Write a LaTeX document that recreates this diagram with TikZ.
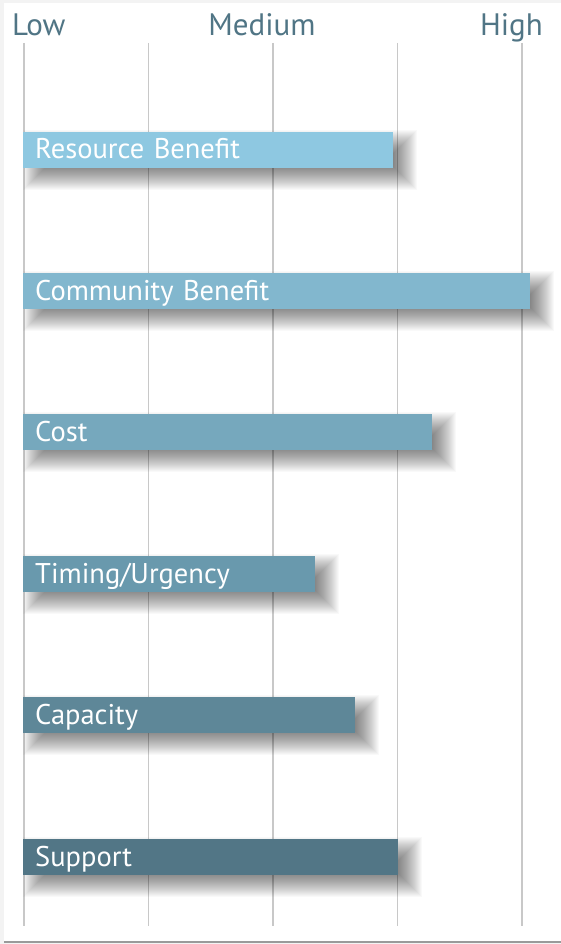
\documentclass[tikz,border=0pt]{standalone}
\usepackage{fontspec}
\setmainfont{PT Sans}
\definecolor{pagegrey}{HTML}{F3F3F3}
\definecolor{edgegrey}{HTML}{9A9A9A}
\definecolor{gridgrey}{HTML}{C8C8C8}
\definecolor{levelblue}{HTML}{507585}
\definecolor{barA}{HTML}{8EC8E1}
\definecolor{barB}{HTML}{82B7CE}
\definecolor{barC}{HTML}{76A8BD}
\definecolor{barD}{HTML}{6999AD}
\definecolor{barE}{HTML}{5E8798}
\definecolor{barF}{HTML}{527686}

\begin{document}
\begin{tikzpicture}[x=1pt, y=-1pt,
    bar/.style={anchor=west, minimum height=36pt, inner xsep=12pt, inner ysep=0pt,
        text=white, align=left, text height=22pt, text depth=4pt,
        font=\fontsize{28.5}{28.5}\selectfont},
    level/.style={text=levelblue, inner sep=0pt, font=\fontsize{31}{31}\selectfont}]
    \useasboundingbox (0,0) rectangle (561,944);
    \fill[pagegrey] (0,0) rectangle (561,944);
    \fill[white] (4,3) rectangle (561,941);
    \draw[edgegrey, line width=1.5pt] (4,942) -- (561,942);
    % scale lines
    \foreach \x in {24,148.5,273,397.5,522}
        \draw[gridgrey, line width=1.2pt] (\x,43) -- (\x,926);
    \node[level, anchor=base west] (low) at (12,36) {Low};
    \node[level, anchor=base] (medium) at (262,36) {Medium};
    \node[level, anchor=base east] (high) at (543,36) {High};
    % bars with soft shadow
    \foreach \name/\txt/\y/\r/\col in {resource/Resource Benefit/150/393/barA,
            community/Community Benefit/291/530/barB,
            cost/Cost/432/432/barC,
            timing/Timing\slash Urgency/574/315/barD,
            capacity/Capacity/715/355/barE,
            support/Support/857/398/barF}{
        \foreach \e in {-12,...,12}
            \fill[black, opacity=0.025] (35-\e,\y-8-\e) rectangle (\r+12+\e,\y+28+\e);
        \pgfmathsetmacro\w{\r-23}
        \pgfmathsetmacro\tw{\r-47}
        \node[bar, fill=\col, minimum width=\w pt, text width=\tw pt] (\name) at (23,\y) {\txt};
    }
\end{tikzpicture}
\end{document}
